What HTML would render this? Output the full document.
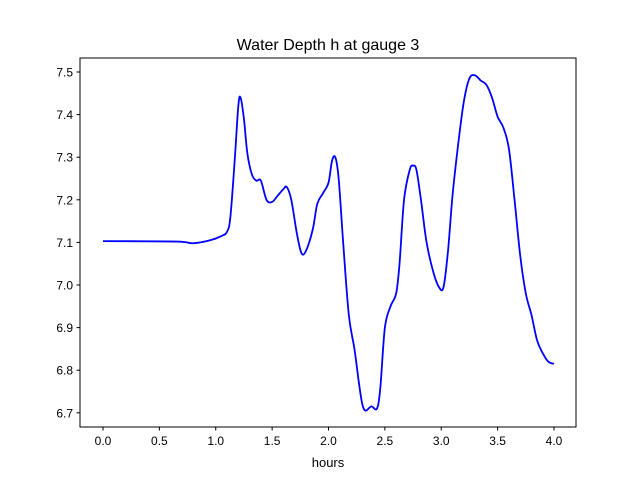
<!DOCTYPE html>
<html><head><meta charset="utf-8"><style>
body{margin:0;background:#fff;font-family:"Liberation Sans","DejaVu Sans",sans-serif}
</style></head><body>
<svg width="640" height="480" xmlns="http://www.w3.org/2000/svg">
<rect width="640" height="480" fill="#fff"/>
<text x="328" y="50" font-size="16" text-anchor="middle">Water Depth h at gauge 3</text>
<g id="plot"></g>
<rect x="80" y="58" width="496" height="369" fill="none" stroke="#000" stroke-width="1"/>
<text x="328" y="467" font-size="13" text-anchor="middle">hours</text>
</svg>
<script>
const xTicks=[0,0.5,1,1.5,2,2.5,3,3.5,4];
const xTickLabels=["0.0","0.5","1.0","1.5","2.0","2.5","3.0","3.5","4.0"];
const yTicks=[6.7,6.8,6.9,7.0,7.1,7.2,7.3,7.4,7.5];
const yTickLabels=["6.7","6.8","6.9","7.0","7.1","7.2","7.3","7.4","7.5"];
const hours=[0,0.65,0.8,0.95,1.05,1.1,1.13,1.17,1.2,1.22,1.25,1.28,1.32,1.36,1.4,1.45,1.5,1.55,1.6,1.63,1.67,1.72,1.76,1.8,1.86,1.9,1.95,2.0,2.03,2.06,2.09,2.13,2.18,2.23,2.27,2.3,2.33,2.38,2.43,2.46,2.5,2.55,2.6,2.63,2.67,2.72,2.75,2.78,2.82,2.87,2.93,2.98,3.02,3.06,3.1,3.15,3.2,3.25,3.3,3.35,3.4,3.45,3.5,3.55,3.6,3.65,3.7,3.75,3.8,3.85,3.9,3.95,4.0];
const depth=[7.103,7.102,7.098,7.105,7.115,7.125,7.16,7.3,7.42,7.44,7.39,7.31,7.26,7.245,7.245,7.2,7.195,7.21,7.225,7.23,7.2,7.12,7.075,7.08,7.13,7.19,7.215,7.24,7.29,7.3,7.25,7.1,6.93,6.85,6.77,6.72,6.705,6.715,6.71,6.76,6.9,6.95,6.98,7.05,7.2,7.27,7.28,7.27,7.2,7.1,7.03,6.995,6.995,7.08,7.21,7.33,7.43,7.485,7.492,7.48,7.47,7.44,7.395,7.37,7.32,7.2,7.07,6.98,6.93,6.87,6.84,6.82,6.815];
const NS="http://www.w3.org/2000/svg";
const sx=v=>103+v*112.75;
const sy=v=>72+(7.5-v)*426;
const g=document.getElementById('plot');
function mk(t,a){const e=document.createElementNS(NS,t);for(const k in a)e.setAttribute(k,a[k]);g.appendChild(e);return e;}
xTicks.forEach((t,i)=>{
 const l=mk('line',{x1:sx(t),x2:sx(t),y1:427,y2:430.5,stroke:'#000'});
 
 
 const tx=mk('text',{x:sx(t),y:445,'font-size':12,'text-anchor':'middle'});
 tx.textContent=xTickLabels[i];
 
 
});
yTicks.forEach((t,i)=>{
 const l=mk('line',{x1:76.5,x2:80,y1:sy(t),y2:sy(t),stroke:'#000'});
 
 
 const tx=mk('text',{x:73,y:sy(t)+4.5,'font-size':12,'text-anchor':'end'});
 tx.textContent=yTickLabels[i];
 
 
});
// smooth path via Catmull-Rom
const P=hours.map((h,i)=>[sx(h),sy(depth[i])]);
let d='M'+P[0][0]+','+P[0][1];
for(let i=0;i<P.length-1;i++){
 const p0=P[Math.max(0,i-1)],p1=P[i],p2=P[i+1],p3=P[Math.min(P.length-1,i+2)];
 const c1=[p1[0]+(p2[0]-p0[0])/6,p1[1]+(p2[1]-p0[1])/6];
 const c2=[p2[0]-(p3[0]-p1[0])/6,p2[1]-(p3[1]-p1[1])/6];
 d+=' C'+c1+' '+c2+' '+p2;
}
const line=mk('path',{d:d,fill:'none',stroke:'#0000ff','stroke-width':1.8});


</script>
</body></html>
